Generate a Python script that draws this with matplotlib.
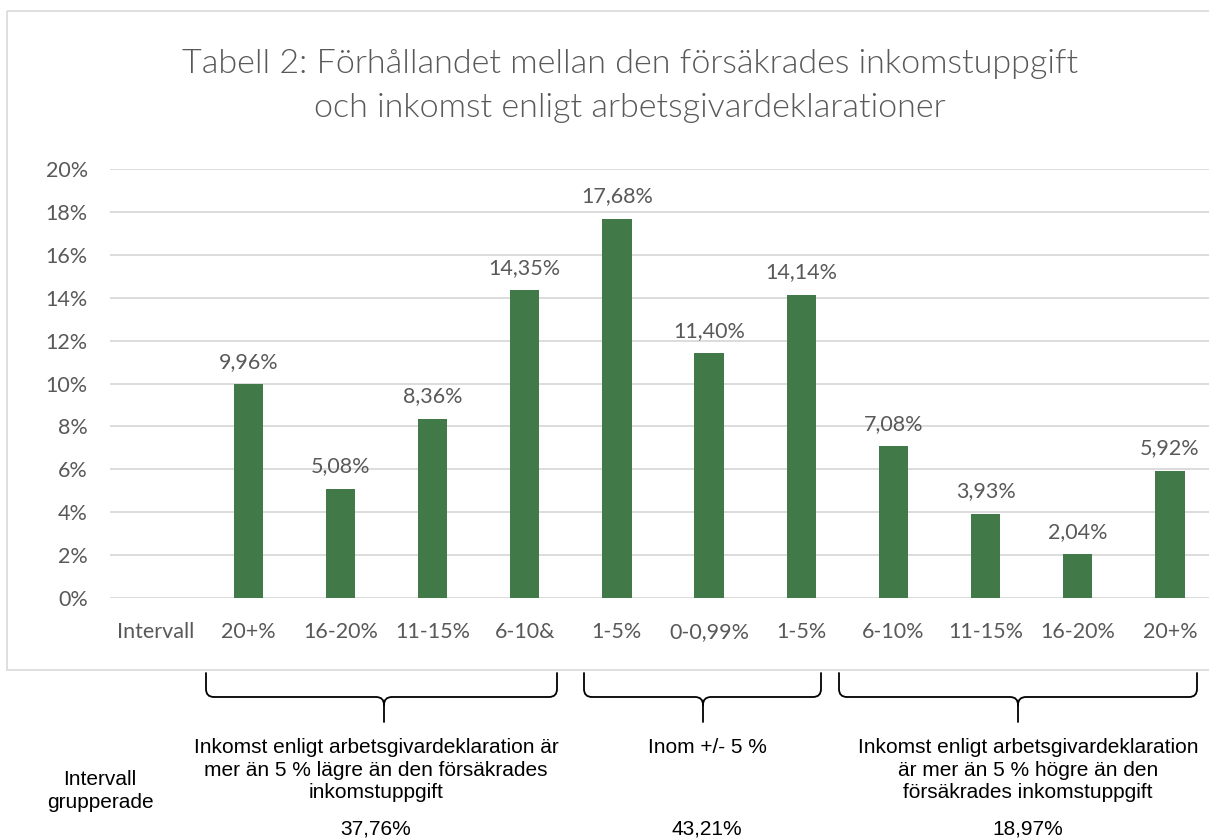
import numpy as np
import matplotlib
matplotlib.use("Agg")
import matplotlib.pyplot as plt
from matplotlib.path import Path
from matplotlib.patches import PathPatch, Rectangle

W, H, DPI = 1209, 840, 100

# ─── Data ─────────────────────────────────────────────────────────────────────
categories = ["Intervall", "20+%", "16-20%", "11-15%", "6-10&", "1-5%",
              "0-0,99%", "1-5%", "6-10%", "11-15%", "16-20%", "20+%"]
values = [np.nan, 9.96, 5.08, 8.36, 14.35, 17.68, 11.40, 14.14,
          7.08, 3.93, 2.04, 5.92]
yticks = [0, 2, 4, 6, 8, 10, 12, 14, 16, 18, 20]

group_texts = [
    "Inkomst enligt arbetsgivardeklaration är\nmer än 5 % lägre än den försäkrades\ninkomstuppgift",
    "Inom +/- 5 %",
    "Inkomst enligt arbetsgivardeklaration\när mer än 5 % högre än den\nförsäkrades inkomstuppgift",
]
group_shares = ["37,76%", "43,21%", "18,97%"]

TITLE = "Tabell 2: Förhållandet mellan den försäkrades inkomstuppgift\noch inkomst enligt arbetsgivardeklarationer"

GREEN = "#417A48"
GREY_TXT = "#595959"
GRID = "#D9D9D9"
CHART_FONT = "Lato"
NOTE_FONT = "Liberation Sans"
FS = 15.5
NOTE_FS = 15


def px(x0, y0, x1, y1):
    """pixel box (top-left origin) -> figure fraction rect"""
    return [x0 / W, 1 - y1 / H, (x1 - x0) / W, (y1 - y0) / H]


fig = plt.figure(figsize=(W / DPI, H / DPI), dpi=DPI)

# overlay for frame, braces and notes (pixel coords)
ov = fig.add_axes([0, 0, 1, 1])
ov.set_xlim(0, W)
ov.set_ylim(H, 0)
ov.axis("off")
ov.add_patch(Rectangle((7, 11), 1215, 659, fill=False, edgecolor=GRID, lw=1.2))

ax = fig.add_axes(px(110, 169, 1216, 598))
x = np.arange(len(categories))
ax.bar(x, values, width=0.32, color=GREEN, zorder=3)
for xi, v in zip(x, values):
    if np.isnan(v):
        continue
    ax.annotate(f"{v:.2f}%".replace(".", ","), (xi, v), xytext=(0, 9),
                textcoords="offset points", ha="center", va="bottom",
                fontsize=FS, color=GREY_TXT, family=CHART_FONT)

ax.set_xlim(-0.5, len(categories) - 0.5)
ax.set_ylim(0, 20)
ax.set_yticks(yticks)
ax.set_yticklabels([f"{t}%" for t in yticks])
ax.set_xticks(x)
ax.set_xticklabels(categories)
ax.grid(axis="y", color=GRID, lw=1.3, zorder=0)
ax.tick_params(length=0, labelsize=FS, labelcolor=GREY_TXT)
ax.tick_params(axis="y", pad=16)
ax.tick_params(axis="x", pad=29)
for lbl in ax.get_xticklabels():
    lbl.set_va("baseline")
for lbl in ax.get_xticklabels() + ax.get_yticklabels():
    lbl.set_family(CHART_FONT)
for s in ax.spines.values():
    s.set_visible(False)
ax.patch.set_alpha(0)

fig.text(630 / W, 1 - 86 / H, TITLE, ha="center", va="center",
         fontsize=24.6, color=GREY_TXT, family=CHART_FONT, fontweight=300,
         linespacing=1.55)


def brace(x0, x1, xm, top=673, mid=697, tip=722, r=8):
    verts = [(x0, top), (x0, mid - r), (x0, mid), (x0 + r, mid),
             (xm - r, mid), (xm, mid), (xm, mid + r), (xm, tip),
             (xm, mid + r), (xm, mid), (xm + r, mid),
             (x1 - r, mid), (x1, mid), (x1, mid - r), (x1, top)]
    codes = [Path.MOVETO, Path.LINETO, Path.CURVE3, Path.CURVE3,
             Path.LINETO, Path.CURVE3, Path.CURVE3, Path.LINETO,
             Path.MOVETO, Path.CURVE3, Path.CURVE3,
             Path.LINETO, Path.CURVE3, Path.CURVE3, Path.LINETO]
    ov.add_patch(PathPatch(Path(verts, codes), fill=False, lw=1.3,
                           edgecolor="black", capstyle="round"))


brace_spans = [(206, 557, 384), (584, 821, 703), (839, 1197, 1018)]
text_x = [376, 707, 1028]
for (b0, b1, bm), tx, txt, share in zip(brace_spans, text_x, group_texts, group_shares):
    brace(b0, b1, bm)
    ov.text(tx, 738, txt, ha="center", va="top", fontsize=NOTE_FS,
            family=NOTE_FONT, linespacing=1.25)
    ov.text(tx, 829, share, ha="center", va="center", fontsize=NOTE_FS,
            family=NOTE_FONT)

ov.text(100, 791, "Intervall\ngrupperade", ha="center", va="center",
        fontsize=NOTE_FS, family=NOTE_FONT, linespacing=1.25)

fig.savefig("out.png", dpi=DPI)
